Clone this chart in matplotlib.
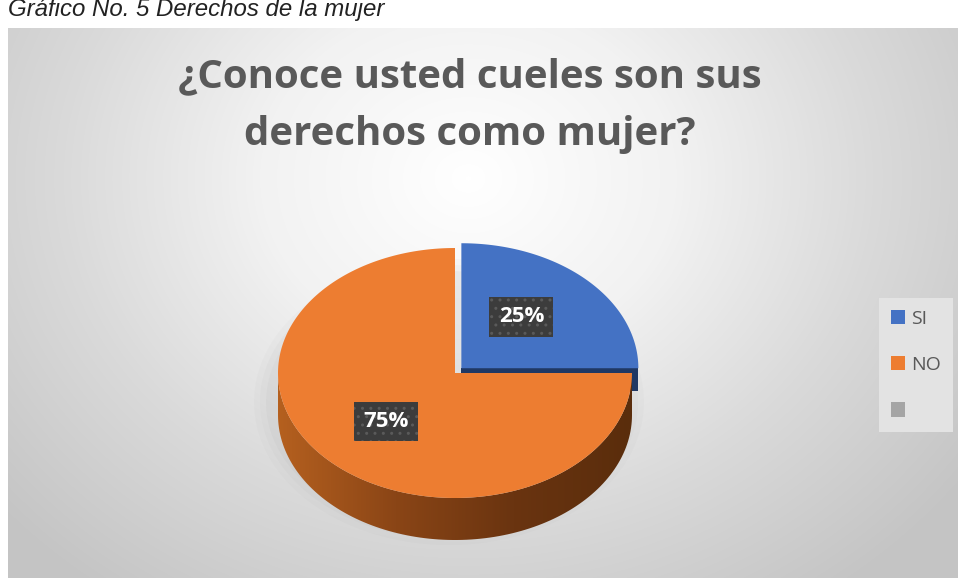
import numpy as np
import matplotlib.pyplot as plt
from matplotlib.patches import Polygon, Patch
from matplotlib.colors import LinearSegmentedColormap

# datos del grafico
categorias = ['SI', 'NO', '']
valores = [25, 75, 0]
colores = ['#4472C4', '#ED7D31', '#A5A5A5']
colores_lado = ['#203864', '#8a4516', '#6b6b6b']
titulo = '¿Conoce usted cueles son sus\nderechos como mujer?'
leyenda_fig = 'Gráfico No. 5 Derechos de la mujer'

W, H = 958, 578
fig = plt.figure(figsize=(W / 100, H / 100), dpi=100)
fig.patch.set_facecolor('white')

# fondo con degradado radial (area del grafico)
bg = fig.add_axes([8 / W, 0, 1 - 8 / W, 1 - 28 / H])
bg.set_axis_off()
yy, xx = np.mgrid[0:550, 0:950]
d = np.sqrt(((xx - 460) / 620.0) ** 2 + ((yy - 150) / 520.0) ** 2)
d = np.clip(d, 0, 1)
cmap_bg = LinearSegmentedColormap.from_list('bg', ['#ffffff', '#f2f2f2', '#d9d9d9', '#c4c4c4'])
bg.imshow(d, cmap=cmap_bg, vmin=0, vmax=1, aspect='auto', extent=(0, 950, 550, 0))

ax = fig.add_axes([0, 0, 1, 1])
ax.set_xlim(0, W)
ax.set_ylim(H, 0)
ax.set_axis_off()
ax.patch.set_alpha(0)

cx, cy = 455, 373
rx, ry = 177, 125
prof = 42
explode = [9, 0, 0]


def punto(t, ox=0, oy=0, dz=0):
    return (cx + ox + rx * np.cos(t), cy + oy - ry * np.sin(t) + dz)


total = float(sum(valores))
inicio = 90.0
rebanadas = []
for i, v in enumerate(valores):
    ang = 360.0 * v / total
    a1, a0 = inicio, inicio - ang
    inicio = a0
    if v == 0:
        continue
    mid = np.radians((a0 + a1) / 2)
    ox = explode[i] * np.cos(mid)
    oy = -explode[i] * 0.75 * np.sin(mid)
    rebanadas.append((i, np.radians(a0), np.radians(a1), ox, oy, mid))

# sombra suave
sh_t = np.linspace(0, 2 * np.pi, 200)
for k, a in enumerate([0.05, 0.04, 0.03]):
    grow = 6 + k * 6
    ax.fill(cx - 6 + (rx + grow) * np.cos(sh_t), cy + prof / 2 + 8 + (ry + grow) * np.sin(sh_t),
            color='#7f7f7f', alpha=a, lw=0, zorder=1)

cmap_lado = LinearSegmentedColormap.from_list('lado', ['#b5601f', '#8a4516', '#6a3410', '#5a2d0c'])

# caras laterales
for i, a0, a1, ox, oy, mid in rebanadas:
    # cara radial en el borde final (angulo a0) de la rebanada separada
    if explode[i] > 0:
        pa = punto(a0, ox, oy)
        poly = [(cx + ox, cy + oy), pa, (pa[0], pa[1] + prof * 0.55), (cx + ox, cy + oy + prof * 0.55)]
        ax.add_patch(Polygon(poly, closed=True, fc=colores_lado[i], ec='none', zorder=2))
    lo, hi = max(a0, -np.pi), min(a1, 0.0)
    if hi > lo:
        ts = np.linspace(lo, hi, 120)
        top = [punto(t, ox, oy) for t in ts]
        bot = [punto(t, ox, oy, prof) for t in ts[::-1]]
        pg = Polygon(top + bot, closed=True, fc='none', ec='none', zorder=3)
        ax.add_patch(pg)
        grad = np.linspace(0, 1, 256).reshape(1, -1)
        im = ax.imshow(grad, cmap=cmap_lado, aspect='auto',
                       extent=(cx + ox - rx, cx + ox + rx, cy + oy + ry + prof, cy + oy), zorder=3)
        im.set_clip_path(pg)

# caras superiores (naranja y luego azul)
for i, a0, a1, ox, oy, mid in sorted(rebanadas, key=lambda r: -r[0]):
    ts = np.linspace(a0, a1, 200)
    pts = [(cx + ox, cy + oy)] + [punto(t, ox, oy) for t in ts]
    ax.add_patch(Polygon(pts, closed=True, fc=colores[i], ec='none', zorder=4))

# etiquetas de datos
for i, a0, a1, ox, oy, mid in rebanadas:
    fx, fy = (0.48, 0.58) if explode[i] > 0 else (0.55, 0.55)
    lx = cx + ox + fx * rx * np.cos(mid)
    ly = cy + oy - fy * ry * np.sin(mid)
    pct = '{:.0f}%'.format(100 * valores[i] / total)
    ax.text(lx, ly, pct, ha='center', va='center', color='white', fontsize=16,
            fontweight='bold', family=['Open Sans', 'DejaVu Sans'], zorder=6,
            bbox=dict(boxstyle='square,pad=0.42', fc='#3c3c3c', ec='#5a5a5a', lw=0, hatch='..'))

# titulo
ax.text(470, 106, titulo, ha='center', va='center', fontsize=29, fontweight='bold',
        color='#595959', family=['Open Sans', 'DejaVu Sans'], linespacing=1.62, zorder=6)

# texto superior (cortado arriba como en el original)
ax.text(8, 16, leyenda_fig, ha='left', va='baseline', fontsize=17.3, style='italic',
        color='#222222', family=['Liberation Sans', 'DejaVu Sans'], zorder=6)

# leyenda
handles = [Patch(fc=c, ec='none') for c in colores]
leg = ax.legend(handles, categorias, loc='center', bbox_to_anchor=(916 / W, 1 - 365 / H),
                bbox_transform=fig.transFigure, frameon=True, fancybox=False,
                fontsize=14, handlelength=0.75, handleheight=0.75, handletextpad=0.3,
                labelspacing=1.45, borderpad=0.6)
leg.get_frame().set_facecolor('#e3e3e3')
leg.get_frame().set_edgecolor('none')
leg.get_frame().set_alpha(1)
for t in leg.get_texts():
    t.set_color('#595959')
    t.set_family(['Open Sans', 'DejaVu Sans'])

fig.savefig('out.png', dpi=100)
